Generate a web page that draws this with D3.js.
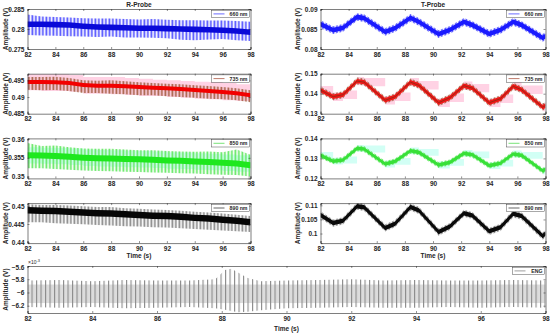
<!DOCTYPE html>
<html>
<head>
<meta charset="utf-8">
<script src="https://cdn.jsdelivr.net/npm/d3@7"></script>
<style>
  body { margin: 0; background: #fff; }
  svg { display: block; font-family: "Liberation Sans", Arial, sans-serif; }
</style>
</head>
<body>
<svg id="chart" width="550" height="333"></svg>
<script>
'use strict'

// ---- data ----
const xTicks = [82, 84, 86, 88, 90, 92, 94, 96, 98]

// R-probe: sampled once a second (centre of the dense band, spike tops, spike bottoms)
const rTime = [82, 83, 84, 85, 86, 87, 88, 89, 90, 91, 92, 93, 94, 95, 96, 97, 98]
const r660Mid = [0.2812, 0.2812, 0.2811, 0.2810, 0.2807, 0.2805, 0.2804, 0.2803, 0.2802, 0.2802, 0.2801, 0.2800, 0.2799, 0.2798, 0.2797, 0.2795, 0.2792]
const r660Top = [0.2836, 0.2831, 0.2830, 0.2829, 0.2827, 0.2826, 0.2826, 0.2825, 0.2824, 0.2825, 0.2823, 0.2822, 0.2822, 0.2821, 0.2821, 0.2820, 0.2818]
const r660Bot = [0.2785, 0.2784, 0.2783, 0.2782, 0.2781, 0.2780, 0.2781, 0.2779, 0.2779, 0.2778, 0.2777, 0.2773, 0.2772, 0.2774, 0.2775, 0.2772, 0.2770]

const r735Mid = [0.4945, 0.4945, 0.4944, 0.4942, 0.4936, 0.4934, 0.4934, 0.4932, 0.4930, 0.4928, 0.4926, 0.4924, 0.4921, 0.4918, 0.4915, 0.4911, 0.4905]
const r735Top = [0.4960, 0.4960, 0.4961, 0.4957, 0.4950, 0.4949, 0.4950, 0.4947, 0.4944, 0.4942, 0.4940, 0.4938, 0.4935, 0.4933, 0.4930, 0.4926, 0.4920]
const r735Bot = [0.4922, 0.4920, 0.4921, 0.4918, 0.4912, 0.4912, 0.4910, 0.4908, 0.4905, 0.4905, 0.4902, 0.4900, 0.4898, 0.4895, 0.4893, 0.4890, 0.4884]
const r735HaloTop = [0.4968, 0.4968, 0.4968, 0.4966, 0.4960, 0.4960, 0.4960, 0.4957, 0.4955, 0.4952, 0.4950, 0.4948, 0.4946, 0.4945, 0.4942, 0.4938, 0.4935]
const r735HaloBot = [0.4920, 0.4918, 0.4918, 0.4916, 0.4910, 0.4910, 0.4908, 0.4906, 0.4903, 0.4903, 0.4900, 0.4898, 0.4895, 0.4893, 0.4890, 0.4888, 0.4882]

const r850Mid = [0.3557, 0.3556, 0.3555, 0.3553, 0.3550, 0.3549, 0.3548, 0.3547, 0.3546, 0.3545, 0.3543, 0.3542, 0.3540, 0.3539, 0.3537, 0.3535, 0.3530]
const r850Top = [0.3590, 0.3582, 0.3583, 0.3578, 0.3575, 0.3574, 0.3574, 0.3572, 0.3570, 0.3570, 0.3568, 0.3567, 0.3566, 0.3567, 0.3565, 0.3572, 0.3558]
const r850Bot = [0.3522, 0.3522, 0.3520, 0.3518, 0.3516, 0.3515, 0.3514, 0.3513, 0.3512, 0.3511, 0.3510, 0.3509, 0.3508, 0.3506, 0.3505, 0.3504, 0.3500]
const r850HaloTop = [0.3578, 0.3577, 0.3576, 0.3575, 0.3572, 0.3571, 0.3570, 0.3569, 0.3568, 0.3567, 0.3565, 0.3564, 0.3562, 0.3561, 0.3559, 0.3557, 0.3552]
const r850HaloBot = [0.3535, 0.3534, 0.3533, 0.3531, 0.3528, 0.3527, 0.3526, 0.3525, 0.3524, 0.3523, 0.3521, 0.3520, 0.3518, 0.3517, 0.3515, 0.3513, 0.3508]

const r890Mid = [0.4488, 0.4487, 0.4486, 0.4484, 0.4482, 0.4480, 0.4479, 0.4477, 0.4475, 0.4473, 0.4472, 0.4470, 0.4467, 0.4465, 0.4462, 0.4459, 0.4455]
const r890Top = [0.4505, 0.4503, 0.4503, 0.4501, 0.4499, 0.4497, 0.4497, 0.4494, 0.4492, 0.4490, 0.4489, 0.4487, 0.4484, 0.4482, 0.4479, 0.4476, 0.4472]
const r890Bot = [0.4455, 0.4455, 0.4452, 0.4451, 0.4449, 0.4447, 0.4446, 0.4444, 0.4443, 0.4441, 0.4440, 0.4438, 0.4436, 0.4434, 0.4432, 0.4430, 0.4428]

// T-probe: peaks, troughs and shoulders of the slow wave
const tTime = [82, 82.9, 83.6, 84.6, 85.1, 86.6, 87.3, 88.4, 89.0, 90.4, 91.2, 92.2, 92.8, 94.0, 94.8, 95.7, 96.3, 97.8, 98]
const t660 = [0.0862, 0.0847, 0.0853, 0.0880, 0.0877, 0.0843, 0.0852, 0.0878, 0.0868, 0.0837, 0.0848, 0.0868, 0.0860, 0.0838, 0.0848, 0.0868, 0.0860, 0.0828, 0.0832]
const t735 = [0.1418, 0.1385, 0.1395, 0.1463, 0.1458, 0.1367, 0.1385, 0.1458, 0.1442, 0.1355, 0.1380, 0.1440, 0.1428, 0.1355, 0.1375, 0.1437, 0.1420, 0.1333, 0.1340]
const t850 = [0.1315, 0.1286, 0.1292, 0.1350, 0.1347, 0.1272, 0.1285, 0.1338, 0.1330, 0.1267, 0.1280, 0.1325, 0.1318, 0.1264, 0.1276, 0.1322, 0.1315, 0.1238, 0.1245]
const t890 = [0.1066, 0.1037, 0.1045, 0.1097, 0.1093, 0.1020, 0.1035, 0.1094, 0.1082, 0.1005, 0.1025, 0.1072, 0.1064, 0.1008, 0.1022, 0.1070, 0.1062, 0.0991, 0.1000]
// half width of the noise around each T trace, and of the shaded halo
const tNoise = { t660: 0.0006, t735: 0.0011, t850: 0.0009, t890: 0.0008 }
const tHalo = { t735: 0.0021, t850: 0.0017 }

// ENG (x10^-3 V): envelope of the fast oscillation
const engTime = [82, 83, 84, 85, 86, 87, 87.8, 88.1, 88.3, 88.5, 88.8, 89.2, 90, 91, 92, 93, 94, 95, 96, 97, 98]
const engTop = [-5.82, -5.81, -5.83, -5.81, -5.82, -5.82, -5.80, -5.66, -5.64, -5.70, -5.78, -5.83, -5.82, -5.81, -5.80, -5.82, -5.81, -5.82, -5.82, -5.81, -5.82]
const engBot = [-6.22, -6.23, -6.22, -6.24, -6.23, -6.22, -6.24, -6.26, -6.28, -6.30, -6.29, -6.27, -6.24, -6.23, -6.22, -6.23, -6.23, -6.22, -6.23, -6.22, -6.23]
const engCore = [-5.88, -6.16]

// ---- layout ----
const svg = d3.select('#chart')
const defs = svg.append('defs')
const axisColor = '#262626'
const left = { x0: 27.5, x1: 250.5 }
const right = { x0: 320.5, x1: 545.5 }
const rowTop = [9, 73.7, 138.4, 203.1]
const rowH = 40

const makePattern = function (id, color, step, w) {
  const p = defs.append('pattern')
    .attr('id', id)
    .attr('patternUnits', 'userSpaceOnUse')
    .attr('width', step).attr('height', 20)
  p.append('rect').attr('x', 0).attr('y', 0).attr('width', w).attr('height', 20).attr('fill', color)
}
makePattern('sp660', '#5555ff', 1.4, 0.7)
makePattern('sp735', '#9a5030', 1.4, 0.6)
makePattern('sp850', '#66e866', 1.4, 0.7)
makePattern('sp890', '#777', 1.4, 0.6)
makePattern('spEng', '#8a8a8a', 4.5, 1.1)

let clipN = 0
const panel = function (opt) {
  const g = svg.append('g')
  const x = d3.scaleLinear().domain([82, 98]).range([opt.x0, opt.x1])
  const y = d3.scaleLinear().domain(opt.domain).range([opt.y1, opt.y0])
  const id = 'clip' + (clipN++)
  defs.append('clipPath').attr('id', id)
    .append('rect').attr('x', opt.x0).attr('y', opt.y0)
    .attr('width', opt.x1 - opt.x0).attr('height', opt.y1 - opt.y0)
  const plot = g.append('g').attr('clip-path', 'url(#' + id + ')')

  // axes, MATLAB style: inward ticks, box around
  g.append('g').attr('transform', 'translate(0,' + opt.y1 + ')')
    .call(d3.axisBottom(x).tickValues(xTicks).tickSize(-2).tickPadding(3).tickFormat(d3.format('d')))
  g.append('g').attr('transform', 'translate(0,' + opt.y0 + ')')
    .call(d3.axisTop(x).tickValues(xTicks).tickSize(-2).tickFormat(''))
  g.append('g').attr('transform', 'translate(' + opt.x0 + ',0)')
    .call(d3.axisLeft(y).tickValues(opt.ticks).tickSize(-2).tickPadding(3).tickFormat(opt.fmt || d3.format('~g')))
  g.append('g').attr('transform', 'translate(' + opt.x1 + ',0)')
    .call(d3.axisRight(y).tickValues(opt.ticks).tickSize(-2).tickFormat(''))
  g.selectAll('.domain').attr('stroke', axisColor).attr('stroke-width', 0.6)
  g.selectAll('.tick line').attr('stroke', axisColor).attr('stroke-width', 0.5)
  g.selectAll('.tick text')
    .attr('fill', axisColor).style('font-size', '6.5px').style('font-weight', 'bold')

  g.append('text')
    .attr('transform', 'translate(' + opt.labelX + ',' + ((opt.y0 + opt.y1) / 2) + ') rotate(-90)')
    .attr('text-anchor', 'middle')
    .style('font-size', '6.5px').style('font-weight', 'bold').attr('fill', axisColor)
    .text('Amplitude (V)')

  // legend
  const lg = g.append('g')
  lg.append('rect')
    .attr('x', opt.x1 - opt.legW).attr('y', opt.y0 + 1.2)
    .attr('width', opt.legW - 1).attr('height', 7.4)
    .attr('fill', '#fff').attr('stroke', axisColor).attr('stroke-width', 0.4)
  lg.append('line')
    .attr('x1', opt.x1 - opt.legW + 2).attr('x2', opt.x1 - opt.legW + 13)
    .attr('y1', opt.y0 + 4.9).attr('y2', opt.y0 + 4.9)
    .attr('stroke', opt.legColor).attr('stroke-width', 0.7)
  lg.append('text')
    .attr('x', opt.x1 - 3).attr('y', opt.y0 + 6.8)
    .attr('text-anchor', 'end')
    .style('font-size', '5.2px').style('font-weight', 'bold').attr('fill', axisColor)
    .text(opt.legend)

  return { plot: plot, x: x, y: y, g: g, legend: lg }
}

const bandArea = function (p, xs, lo, hi, curve) {
  return d3.area()
    .x(function (d, i) { return p.x(xs[i]) })
    .y0(function (d, i) { return p.y(lo[i]) })
    .y1(function (d, i) { return p.y(hi[i]) })
    .curve(curve || d3.curveLinear)(xs)
}

const drawR = function (p, mid, top, bot, core, fill, pattern, halo, haloColor) {
  if (halo) {
    p.plot.append('path').attr('d', bandArea(p, rTime, halo[1], halo[0], d3.curveStepAfter)).attr('fill', haloColor)
  }
  p.plot.append('path').attr('d', bandArea(p, rTime, bot, top)).attr('fill', 'url(#' + pattern + ')')
  const lo = mid.map(function (v) { return v - core })
  const hi = mid.map(function (v) { return v + core })
  p.plot.append('path').attr('d', bandArea(p, rTime, lo, hi)).attr('fill', fill)
}

const drawT = function (p, vals, noise, fill, pattern, lineColor, halo, haloColor) {
  if (halo) {
    const hl = vals.map(function (v) { return v - halo })
    const hh = vals.map(function (v) { return v + halo })
    p.plot.append('path').attr('d', bandArea(p, tTime, hl, hh, d3.curveStepAfter)).attr('fill', haloColor)
  }
  const ol = vals.map(function (v) { return v - noise * 1.6 })
  const oh = vals.map(function (v) { return v + noise * 1.6 })
  p.plot.append('path').attr('d', bandArea(p, tTime, ol, oh)).attr('fill', 'url(#' + pattern + ')')
  const il = vals.map(function (v) { return v - noise })
  const ih = vals.map(function (v) { return v + noise })
  p.plot.append('path').attr('d', bandArea(p, tTime, il, ih)).attr('fill', fill)
  if (lineColor) {
    p.plot.append('path')
      .attr('d', d3.line().x(function (d, i) { return p.x(tTime[i]) }).y(function (d) { return p.y(d) })(vals))
      .attr('fill', 'none').attr('stroke', lineColor).attr('stroke-width', 0.5)
  }
}

// ---- R-probe column ----
const rDefs = [
  { key: '660', domain: [0.275, 0.285], ticks: [0.275, 0.28, 0.285], leg: '#2b2bff' },
  { key: '735', domain: [0.485, 0.497], ticks: [0.485, 0.49, 0.495], leg: '#a0402a' },
  { key: '850', domain: [0.3495, 0.3602], ticks: [0.35, 0.355, 0.36], leg: '#3fd83f' },
  { key: '890', domain: [0.4397, 0.4508], ticks: [0.44, 0.445, 0.45], leg: '#222' }
]
const tDefs = [
  { domain: [0.08, 0.09], ticks: [0.08, 0.085, 0.09] },
  { domain: [0.13, 0.15], ticks: [0.13, 0.14, 0.15] },
  { domain: [0.12, 0.14], ticks: [0.12, 0.13, 0.14] },
  { domain: [0.0966, 0.1108], ticks: [0.1, 0.105, 0.11] }
]

const rp = rDefs.map(function (d, i) {
  return panel({ x0: left.x0, x1: left.x1, y0: rowTop[i], y1: rowTop[i] + rowH, domain: d.domain, ticks: d.ticks,
    labelX: 8, legW: 39, legColor: d.leg, legend: d.key + ' nm' })
})
const tp = tDefs.map(function (d, i) {
  return panel({ x0: right.x0, x1: right.x1, y0: rowTop[i], y1: rowTop[i] + rowH, domain: d.domain, ticks: d.ticks,
    labelX: 300, legW: 39, legColor: rDefs[i].leg, legend: rDefs[i].key + ' nm' })
})

drawR(rp[0], r660Mid, r660Top, r660Bot, 0.0007, '#0a0ad8', 'sp660')
drawR(rp[1], r735Mid, r735Top, r735Bot, 0.0006, '#f20000', 'sp735', [r735HaloTop, r735HaloBot], '#ffd2e4')
drawR(rp[2], r850Mid, r850Top, r850Bot, 0.0008, '#1ee81e', 'sp850', [r850HaloTop, r850HaloBot], '#d2fff5')
drawR(rp[3], r890Mid, r890Top, r890Bot, 0.0009, '#050505', 'sp890')

drawT(tp[0], t660, tNoise.t660, '#1a1aff', 'sp660', null)
drawT(tp[1], t735, tNoise.t735, '#f01818', 'sp735', '#4a3a10', tHalo.t735, '#ffd2e4')
drawT(tp[2], t850, tNoise.t850, '#38e038', 'sp850', null, tHalo.t850, '#d2fff5')
drawT(tp[3], t890, tNoise.t890, '#0a0a0a', 'sp890', null)

// bring legends above the traces
rp.concat(tp).forEach(function (p) { p.legend.raise() })

// ---- ENG ----
const eng = panel({ x0: left.x0, x1: right.x1, y0: 266, y1: 313, domain: [-6.31, -5.6], ticks: [-6.2, -6, -5.8, -5.6],
  fmt: d3.format('~g'), labelX: 8, legW: 33, legColor: '#777', legend: 'ENG' })
eng.plot.append('rect')
  .attr('x', eng.x(82)).attr('width', eng.x(98) - eng.x(82))
  .attr('y', eng.y(engCore[0])).attr('height', eng.y(engCore[1]) - eng.y(engCore[0]))
  .attr('fill', '#dcdcdc')
eng.plot.append('path').attr('d', bandArea(eng, engTime, engBot, engTop)).attr('fill', 'url(#spEng)')
eng.legend.raise()
eng.g.selectAll('.tick text').filter(function (d) { return d === -5.6 }).attr('dy', '0.5em')

const ex = eng.g.append('text').attr('x', 28).attr('y', 263.5)
  .style('font-size', '5px').attr('fill', axisColor)
ex.append('tspan').text('\u00d710')
ex.append('tspan').attr('dy', -2).style('font-size', '4px').text('-3')

// ---- titles and x labels ----
const label = function (txt, x, y) {
  svg.append('text').attr('x', x).attr('y', y).attr('text-anchor', 'middle')
    .style('font-size', '6.5px').style('font-weight', 'bold').attr('fill', axisColor).text(txt)
}
label('R-Probe', (left.x0 + left.x1) / 2, 6.5)
label('T-Probe', (right.x0 + right.x1) / 2, 6.5)
label('Time (s)', (left.x0 + left.x1) / 2, 258)
label('Time (s)', (right.x0 + right.x1) / 2, 258)
label('Time (s)', (left.x0 + right.x1) / 2, 331)
</script>
</body>
</html>
